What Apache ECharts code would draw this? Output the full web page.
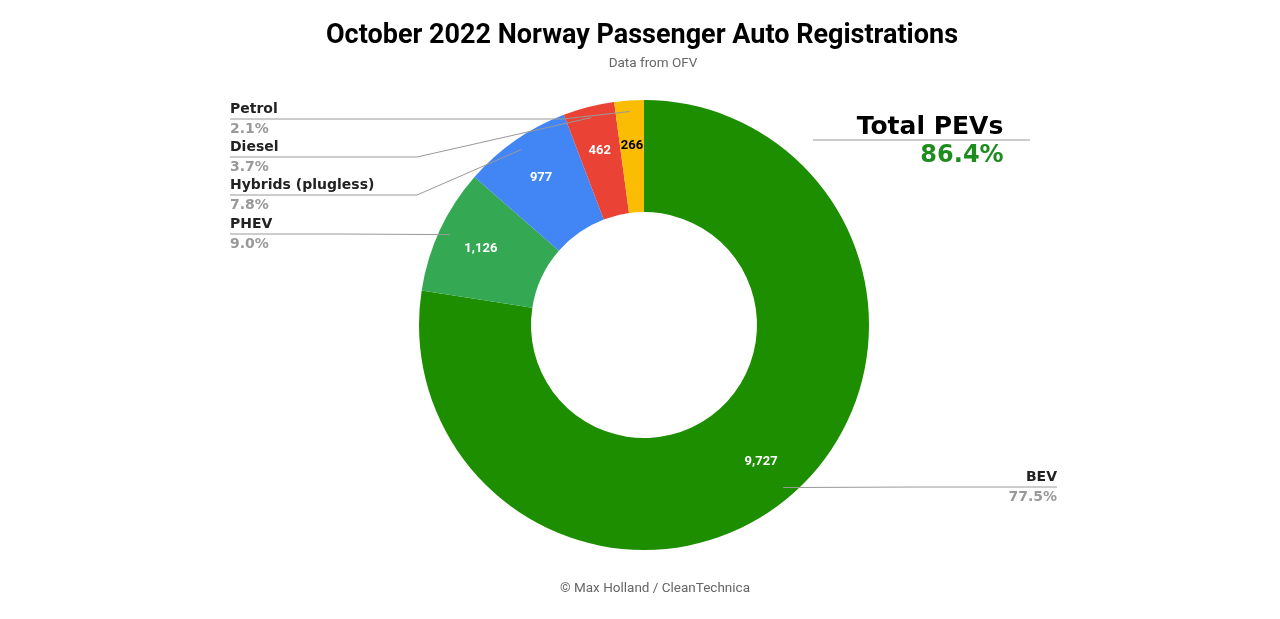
<!DOCTYPE html>
<html>
<head>
<meta charset="utf-8">
<script src="https://cdn.jsdelivr.net/npm/echarts@6/dist/echarts.min.js"></script>
<style>html,body{margin:0;padding:0;background:#fff;}#c{width:1280px;height:619px;}</style>
</head>
<body>
<div id="c"></div>
<script>
const categories = ['BEV', 'PHEV', 'Hybrids (plugless)', 'Diesel', 'Petrol'];
const values = [9727, 1126, 977, 462, 266];
const colors = ['#1d8e00', '#34a853', '#4285f4', '#ea4335', '#fbbc04'];
const valueLabelColors = ['#ffffff', '#ffffff', '#ffffff', '#ffffff', '#000000'];
const pevCategories = ['BEV', 'PHEV'];

const total = values.reduce((a, b) => a + b, 0);
const pevShare = values.filter((v, i) => pevCategories.includes(categories[i])).reduce((a, b) => a + b, 0) / total;

const CX = 644, CY = 325, R0 = 113, R1 = 225;
// label line layout (positions only)
const outerLayout = {
  'Petrol': { lineY: 119, bendX: 563, endX: 230, side: 'left' },
  'Diesel': { lineY: 157, bendX: 417, endX: 230, side: 'left' },
  'Hybrids (plugless)': { lineY: 195, bendX: 417, endX: 230, side: 'left' },
  'PHEV': { lineY: 234, bendX: 430, endX: 230, side: 'left' },
  'BEV': { lineY: 487, bendX: 800, endX: 1057, side: 'right' }
};

const chart = echarts.init(document.getElementById('c'), null, { renderer: 'canvas' });
const data = categories.map((n, i) => ({ name: n, value: values[i], itemStyle: { color: colors[i] },
  label: { color: valueLabelColors[i] } }));
const data2 = categories.map((n, i) => ({ name: n, value: values[i] }));

function fmtNum(v) { return v.toLocaleString('en-US'); }

const option = {
  animation: false,
  backgroundColor: '#ffffff',
  title: [
    { text: 'October 2022 Norway Passenger Auto Registrations', left: 637, top: 18, textAlign: 'center',
      textStyle: { fontFamily: 'Roboto', fontWeight: 'bold', fontSize: 27, color: '#000' } },
    { text: 'Data from OFV', left: 648, top: 52, textAlign: 'center',
      textStyle: { fontFamily: 'Roboto', fontWeight: 'normal', fontSize: 13.5, color: '#666' } },
    { text: '© Max Holland / CleanTechnica', left: 650, top: 577, textAlign: 'center',
      textStyle: { fontFamily: 'Roboto', fontWeight: 'normal', fontSize: 13.5, color: '#666' } },
    { text: 'Total PEVs', left: 925, top: 110, textAlign: 'center',
      textStyle: { fontFamily: 'DejaVu Sans', fontWeight: 'bold', fontSize: 25, color: '#000' } },
    { text: (pevShare * 100).toFixed(1) + '%', left: 957, top: 139, textAlign: 'center',
      textStyle: { fontFamily: 'DejaVu Sans', fontWeight: 'bold', fontSize: 24, color: '#1e8c1e' } }
  ],
  graphic: [
    { type: 'line', shape: { x1: 813, y1: 140, x2: 1030, y2: 140 }, style: { stroke: '#999', lineWidth: 1 } }
  ],
  series: [
    {
      type: 'pie', center: [CX, CY], radius: [R0, R1], startAngle: 90, clockwise: true,
      silent: true, data: data, z: 2,
      itemStyle: { borderColor: '#fff', borderWidth: 0 },
      label: { show: true, position: 'inside', formatter: p => fmtNum(p.value),
        fontFamily: 'Roboto', fontWeight: 'bold', fontSize: 13 },
      labelLine: { show: false },
      labelLayout: function (p) {
        const r = p.labelRect;
        const lx = r.x + r.width / 2, ly = r.y + r.height / 2;
        const dx = lx - CX, dy = ly - CY;
        const d = Math.sqrt(dx * dx + dy * dy);
        const target = d + 8;
        return { x: CX + dx * target / d, y: CY + dy * target / d, align: 'center', verticalAlign: 'middle' };
      }
    },
    {
      type: 'pie', center: [CX, CY], radius: [R0, R1], startAngle: 90, clockwise: true,
      silent: true, data: data2, z: 5,
      itemStyle: { color: 'rgba(0,0,0,0)' },
      emphasis: { disabled: true },
      label: {
        show: true, position: 'outside',
        formatter: p => '{n|' + p.name + '}\n{p|' + (p.value / total * 100).toFixed(1) + '%}',
        rich: {
          n: { fontFamily: 'DejaVu Sans', fontWeight: 'bold', fontSize: 14, color: '#222', lineHeight: 20 },
          p: { fontFamily: 'DejaVu Sans', fontWeight: 'bold', fontSize: 14, color: '#999', lineHeight: 20 }
        }
      },
      labelLine: { show: true, lineStyle: { color: '#999', width: 1 } },
      labelLayout: function (p) {
        const name = categories[p.dataIndex];
        const L = outerLayout[name];
        const pts = p.labelLinePoints;
        let sx = CX, sy = CY;
        if (pts && pts[0]) {
          const dx = pts[0][0] - CX, dy = pts[0][1] - CY;
          const d = Math.sqrt(dx * dx + dy * dy);
          sx = CX + dx * 214 / d; sy = CY + dy * 214 / d;
        }
        let bendX = L.bendX, bendY = L.lineY;
        if (Math.abs(sy - L.lineY) < 4) { bendX = (sx + L.endX) / 2; }
        return {
          x: L.endX, y: L.lineY,
          align: L.side === 'left' ? 'left' : 'right', verticalAlign: 'middle',
          labelLinePoints: [[sx, sy], [bendX, bendY], [L.endX, L.lineY]]
        };
      }
    }
  ]
};
chart.setOption(option);
</script>
</body>
</html>
